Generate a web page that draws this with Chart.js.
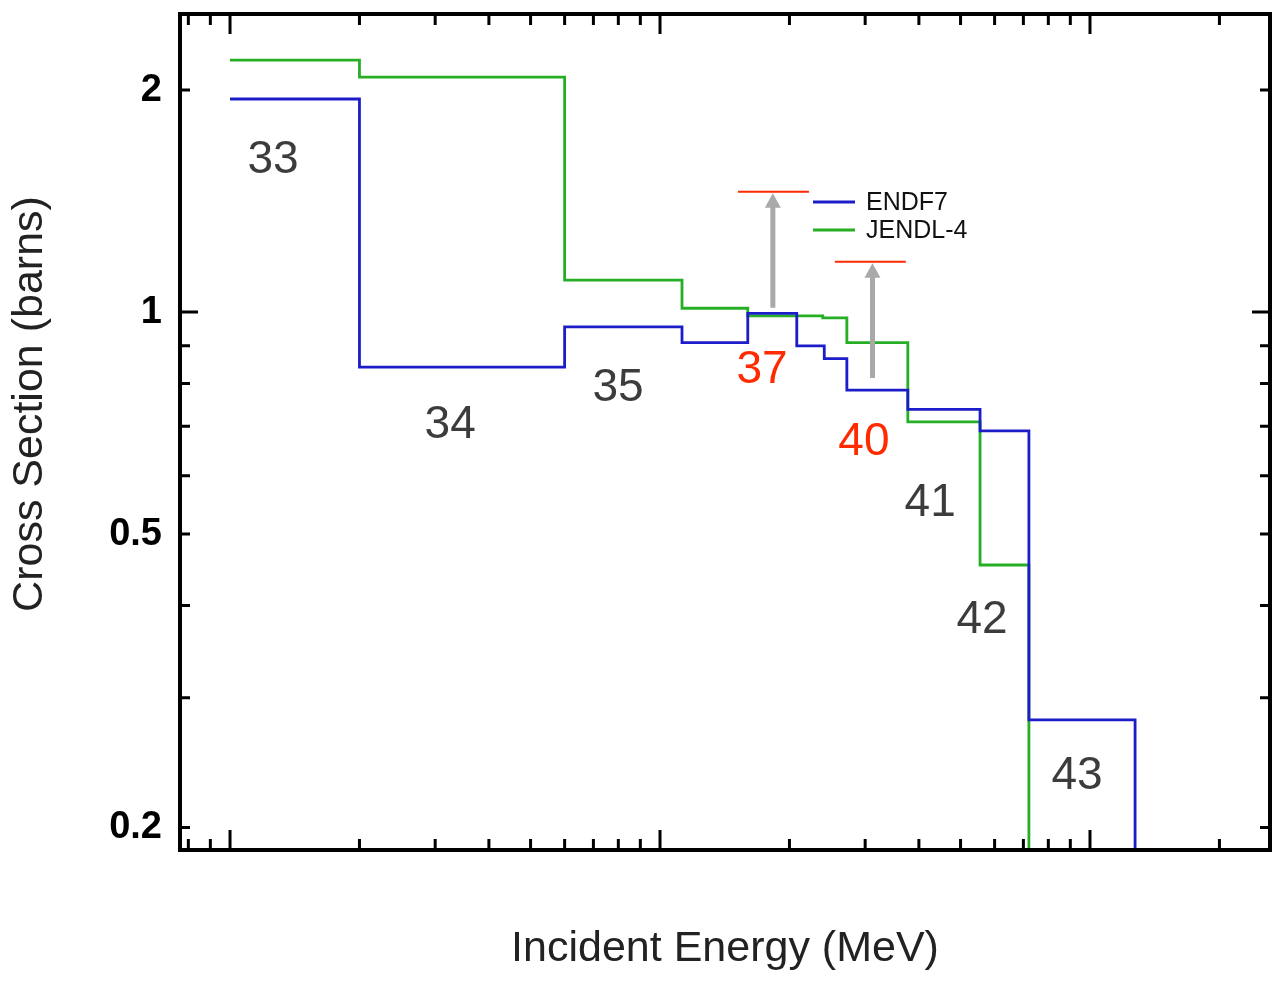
<!DOCTYPE html>
<html>
<head>
<meta charset="utf-8">
<title>Cross Section</title>
<script src="https://cdn.jsdelivr.net/npm/chart.js@4.4.1/dist/chart.umd.min.js"></script>
<style>
    html, body { margin: 0; padding: 0; background: #fff; }
    #wrap { width: 1277px; height: 981px; }
</style>
</head>
<body>
<div id="wrap"><canvas id="xsChart" width="1277" height="981"></canvas></div>
<script>
// group boundaries (MeV) and cross sections (barns)
const endfEdges = [1.0, 2.0, 6.0, 11.25, 16.0, 20.8, 24.1, 27.2, 37.7, 55.5, 72.1, 127.3];
const endfValues = [1.945, 0.842, 0.955, 0.909, 0.996, 0.900, 0.865, 0.784, 0.738, 0.690, 0.280, 0.1];
const jendlEdges = [1.0, 2.0, 6.0, 11.25, 16.0, 23.9, 27.2, 37.7, 55.5, 72.1, 76.0];
const jendlValues = [2.196, 2.083, 1.105, 1.012, 0.988, 0.982, 0.909, 0.710, 0.454, 0.15, 0.15];

const yTickValues = [0.2, 0.5, 1, 2];
const yMinorTicks = [0.3, 0.4, 0.6, 0.7, 0.8, 0.9];
const yLongTicks = [1];
const xLongTicks = [1, 10, 100];
const xMinorTicks = [0.8, 0.9, 2, 3, 4, 5, 6, 7, 8, 9, 20, 30, 40, 50, 60, 70, 80, 90, 200];

// group numbers written on the plot
const groupNames = ['33', '34', '35', '37', '40', '41', '42', '43'];
const groupX = [1.259, 3.25, 7.99, 17.27, 29.8, 42.5, 56.1, 93.3];
const groupY = [1.607, 0.703, 0.789, 0.834, 0.666, 0.551, 0.382, 0.2349];
const groupRed = ['37', '40'];

// grey arrows up to the red levels
const arrowX = [18.3, 31.2];
const arrowFrom = [1.0135, 0.814];
const arrowTo = [1.456, 1.17];
const capFrom = [15.18, 25.5];
const capTo = [22.2, 37.3];

const FONT = '"Liberation Sans", Arial, Helvetica, sans-serif';
const BLUE = '#1c1cc8';
const GREEN = '#27ae27';
const RED = '#ff2a00';

function toPoints(edges, values) {
    return edges.map((e, i) => ({ x: e, y: values[i] }));
}

const decorations = {
    id: 'decorations',
    afterDatasetsDraw(chart) {
        const { ctx, chartArea: a, scales: { x, y } } = chart;
        ctx.save();

        // arrows and red levels
        arrowX.forEach((v, i) => {
            const px = x.getPixelForValue(v);
            const y0 = y.getPixelForValue(arrowFrom[i]);
            const y1 = y.getPixelForValue(arrowTo[i]);
            ctx.strokeStyle = '#a9a9a9';
            ctx.fillStyle = '#a9a9a9';
            ctx.lineWidth = 5;
            ctx.beginPath();
            ctx.moveTo(px, y0);
            ctx.lineTo(px, y1 + 14);
            ctx.stroke();
            ctx.beginPath();
            ctx.moveTo(px, y1 + 1.5);
            ctx.lineTo(px - 8, y1 + 16);
            ctx.lineTo(px + 8, y1 + 16);
            ctx.closePath();
            ctx.fill();

            ctx.strokeStyle = RED;
            ctx.lineWidth = 2;
            ctx.beginPath();
            ctx.moveTo(x.getPixelForValue(capFrom[i]), y1);
            ctx.lineTo(x.getPixelForValue(capTo[i]), y1);
            ctx.stroke();
        });

        // group numbers
        ctx.font = '46px ' + FONT;
        ctx.textAlign = 'center';
        ctx.textBaseline = 'middle';
        groupNames.forEach((g, i) => {
            ctx.fillStyle = groupRed.includes(g) ? RED : '#3c3c3c';
            ctx.fillText(g, x.getPixelForValue(groupX[i]), y.getPixelForValue(groupY[i]));
        });

        // legend
        const lx = a.left + 633;
        const ly = a.top + 188;
        [['ENDF7', BLUE], ['JENDL-4', GREEN]].forEach(([label, color], i) => {
            const yy = ly + i * 28;
            ctx.strokeStyle = color;
            ctx.lineWidth = 3;
            ctx.beginPath();
            ctx.moveTo(lx, yy);
            ctx.lineTo(lx + 42, yy);
            ctx.stroke();
            ctx.fillStyle = '#111';
            ctx.font = '25px ' + FONT;
            ctx.textAlign = 'left';
            ctx.fillText(label, lx + 53, yy + 1);
        });

        // frame with inward ticks on all sides
        ctx.strokeStyle = '#000';
        ctx.lineWidth = 3;
        const xt = xLongTicks.map(v => [v, 20]).concat(xMinorTicks.map(v => [v, 11]));
        xt.forEach(([v, len]) => {
            const px = x.getPixelForValue(v);
            ctx.beginPath();
            ctx.moveTo(px, a.bottom);
            ctx.lineTo(px, a.bottom - len);
            ctx.moveTo(px, a.top);
            ctx.lineTo(px, a.top + len);
            ctx.stroke();
        });
        const yt = yTickValues.concat(yMinorTicks).map(v => [v, yLongTicks.includes(v) ? 18 : 10]);
        yt.forEach(([v, len]) => {
            const py = y.getPixelForValue(v);
            ctx.beginPath();
            ctx.moveTo(a.left, py);
            ctx.lineTo(a.left + len, py);
            ctx.moveTo(a.right, py);
            ctx.lineTo(a.right - len, py);
            ctx.stroke();
        });
        ctx.lineWidth = 4;
        ctx.strokeRect(a.left, a.top, a.right - a.left, a.bottom - a.top);

        // y title
        ctx.fillStyle = '#222';
        ctx.font = '43px ' + FONT;
        ctx.textAlign = 'center';
        ctx.textBaseline = 'middle';
        ctx.translate(a.left - 150, (a.top + a.bottom) / 2 - 28);
        ctx.rotate(-Math.PI / 2);
        ctx.fillText('Cross Section (barns)', 0, 0);

        ctx.restore();
    }
};

const ctx = document.getElementById('xsChart').getContext('2d');
const xsChart = new Chart(ctx, {
    type: 'line',
    data: {
        datasets: [{
            label: 'ENDF7',
            data: toPoints(endfEdges, endfValues),
            borderColor: BLUE,
            borderWidth: 2.8,
            pointRadius: 0,
            stepped: 'before',
            fill: false
        }, {
            label: 'JENDL-4',
            data: toPoints(jendlEdges, jendlValues),
            borderColor: GREEN,
            borderWidth: 2.8,
            pointRadius: 0,
            stepped: 'before',
            fill: false
        }]
    },
    options: {
        responsive: false,
        animation: false,
        layout: { padding: { left: 0, right: 7, top: 14, bottom: 0 } },
        plugins: {
            legend: { display: false },
            tooltip: { enabled: false }
        },
        scales: {
            x: {
                type: 'logarithmic',
                position: 'bottom',
                min: 0.765,
                max: 262.2,
                bounds: 'data',
                grid: { display: false, drawTicks: false },
                border: { display: false },
                ticks: { display: false },
                title: {
                    display: true,
                    text: 'Incident Energy (MeV)',
                    color: '#222',
                    font: { family: FONT, size: 43 },
                    padding: { top: 0, bottom: 6 }
                },
                afterFit(scale) {
                    scale.height = 131;
                    scale.paddingLeft = 0;
                    scale.paddingRight = 0;
                }
            },
            y: {
                type: 'logarithmic',
                min: 0.1865,
                max: 2.536,
                bounds: 'data',
                grid: { display: false, drawTicks: false },
                border: { display: false },
                afterBuildTicks(scale) {
                    scale.ticks = yTickValues.map(v => ({ value: v }));
                },
                ticks: {
                    color: '#000',
                    padding: 18,
                    font: { family: FONT, size: 38, weight: 'bold' },
                    callback: v => String(v)
                },
                afterFit(scale) {
                    scale.width = 180;
                    scale.paddingTop = 0;
                    scale.paddingBottom = 0;
                }
            }
        }
    },
    plugins: [decorations]
});
</script>
</body>
</html>
